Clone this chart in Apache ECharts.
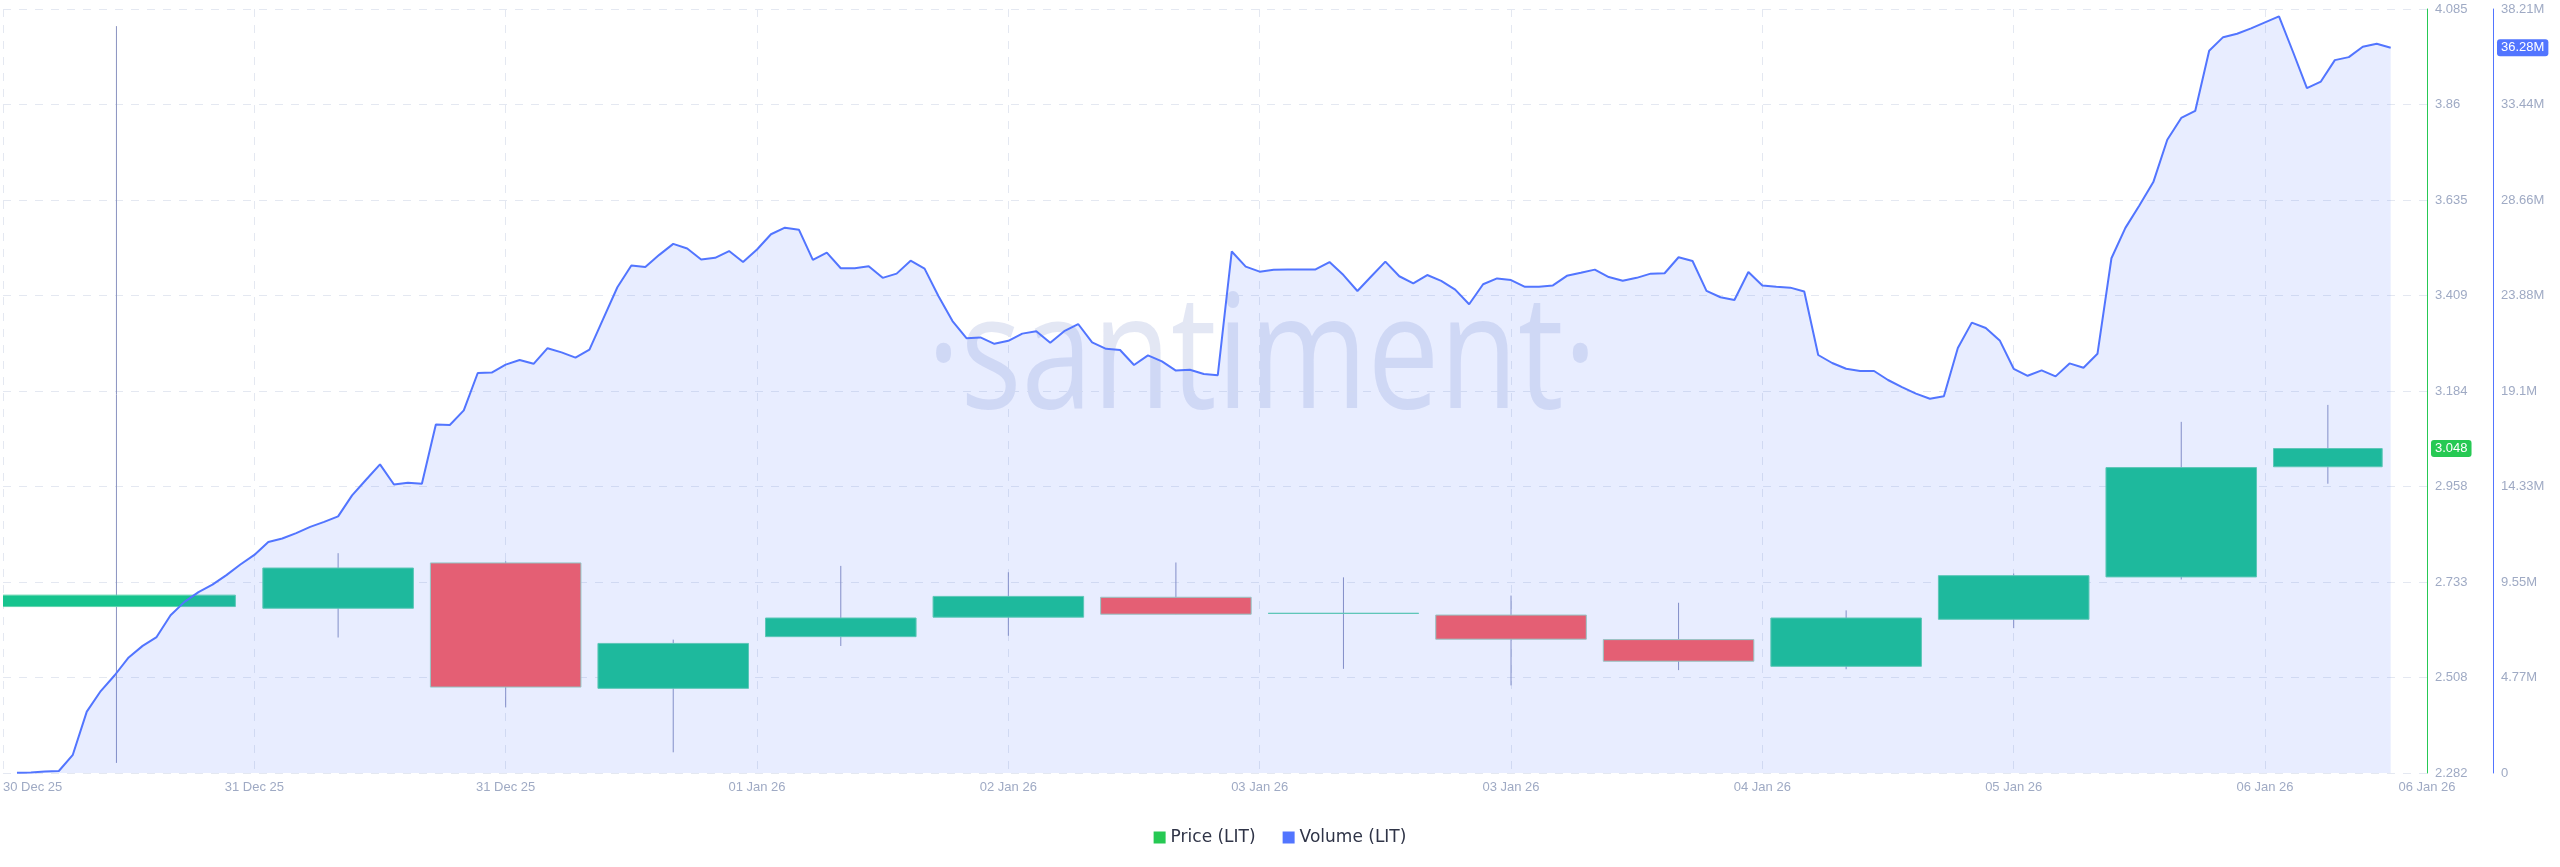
<!DOCTYPE html>
<html>
<head>
<meta charset="utf-8">
<script src="https://cdn.jsdelivr.net/npm/echarts@6.0.0/dist/echarts.min.js"></script>
<style>
html,body{margin:0;padding:0;background:#ffffff;}
#chart{width:2560px;height:867px;}
</style>
</head>
<body>
<div id="chart"></div>
<script>
// ---------------- DATA ----------------
// x axis: hours since 30 Dec 25 06:00, one tick label every 18 h
const xLabels = ['30 Dec 25', '31 Dec 25', '31 Dec 25', '01 Jan 26', '02 Jan 26', '03 Jan 26',
                 '03 Jan 26', '04 Jan 26', '05 Jan 26', '06 Jan 26', '06 Jan 26'];
const xLabelStepHours = 18;
const xAxisEndHour = 173.6;

// price candles (LIT): period start / end (hours) and OHLC
const candleStart = [-1.0, 18, 30, 42, 54, 66, 78, 90, 102, 114, 126, 138, 150, 162];
const candleEnd   = [17.25, 30, 42, 54, 66, 78, 90, 102, 114, 126, 138, 150, 162, 171];
const candleOpen  = [2.675, 2.671, 2.778, 2.482, 2.604, 2.650, 2.697, 2.659, 2.655, 2.597, 2.534, 2.645, 2.745, 3.005];
const candleClose = [2.702, 2.766, 2.485, 2.588, 2.648, 2.699, 2.657, 2.659, 2.598, 2.546, 2.648, 2.748, 3.003, 3.048];
const candleLow   = [2.306, 2.602, 2.437, 2.331, 2.582, 2.606, 2.657, 2.528, 2.489, 2.525, 2.527, 2.624, 2.739, 2.965];
const candleHigh  = [4.045, 2.801, 2.782, 2.597, 2.771, 2.756, 2.779, 2.744, 2.701, 2.684, 2.666, 2.753, 3.111, 3.151];

// hourly volume (millions), first point at hour 1
const volumeStartHour = 1;
const volume = [
  0.01, 0.02, 0.07, 0.10, 0.91, 3.07, 4.10, 4.89, 5.78, 6.36,
  6.80, 7.89, 8.56, 9.05, 9.42, 9.90, 10.43, 10.91, 11.56, 11.73,
  12.00, 12.31, 12.56, 12.84, 13.89, 14.67, 15.44, 14.43, 14.52, 14.47,
  17.43, 17.41, 18.14, 20.01, 20.03, 20.43, 20.66, 20.47, 21.25, 21.04,
  20.78, 21.18, 22.74, 24.30, 25.39, 25.31, 25.92, 26.47, 26.24, 25.69,
  25.77, 26.11, 25.56, 26.19, 26.95, 27.28, 27.18, 25.67, 26.03, 25.25,
  25.25, 25.35, 24.77, 24.98, 25.63, 25.23, 23.85, 22.61, 21.75, 21.79,
  21.47, 21.62, 21.98, 22.10, 21.52, 22.10, 22.46, 21.54, 21.22, 21.16,
  20.41, 20.89, 20.59, 20.13, 20.17, 19.96, 19.90, 26.09, 25.33, 25.08,
  25.18, 25.19, 25.19, 25.19, 25.56, 24.91, 24.11, 24.85, 25.58, 24.85,
  24.49, 24.91, 24.62, 24.18, 23.45, 24.45, 24.74, 24.66, 24.32, 24.33,
  24.39, 24.87, 25.02, 25.18, 24.81, 24.62, 24.77, 24.98, 25.00, 25.80,
  25.61, 24.12, 23.80, 23.66, 25.06, 24.39, 24.32, 24.28, 24.09, 20.91,
  20.51, 20.22, 20.11, 20.11, 19.66, 19.30, 18.98, 18.72, 18.85, 21.26,
  22.53, 22.26, 21.64, 20.22, 19.87, 20.14, 19.84, 20.49, 20.27, 20.97,
  25.75, 27.27, 28.39, 29.56, 31.68, 32.77, 33.12, 36.13, 36.81, 36.98,
  37.25, 37.55, 37.85, 36.08, 34.26, 34.59, 35.66, 35.81, 36.33, 36.48,
  36.28
];

// axis ranges
const priceMin = 2.2822, priceInterval = 0.2254, priceMax = 4.0854;
const volMin = 0, volInterval = 4.7773, volMax = 38.2184;

// ---------------- STYLE ----------------
const FONT = "'Liberation Sans', Arial, sans-serif";
const LABEL_COLOR = '#9faac4';
const GRID_COLOR = '#e4e8f1';
const PRICE_COLOR = '#26c953';
const VOLUME_COLOR = '#5275ff';
const UP = '#16c48e', DOWN = '#fb5c5f';
const UP_BORDER = '#5fd3ad', DOWN_BORDER = '#9fd3bd';
const WICK = '#8a92c0';
const CANDLE_GAP = 17;

const candleData = candleStart.map((s, i) => [s, candleEnd[i], candleOpen[i], candleClose[i], candleLow[i], candleHigh[i]]);
const volumeData = volume.map((v, i) => [volumeStartHour + i, v]);

const chart = echarts.init(document.getElementById('chart'), null, { renderer: 'canvas' });

const option = {
  animation: false,
  backgroundColor: '#ffffff',
  graphic: [{
    type: 'text',
    x: 1262, y: 362,
    scaleX: 0.8,
    z: -10,
    silent: true,
    style: {
      text: '·santiment·',
      font: "160px 'Open Sans', 'Noto Sans', sans-serif",
      fill: 'rgba(140,155,210,0.24)',
      textAlign: 'center',
      textVerticalAlign: 'middle'
    }
  }],
  legend: {
    top: 824,
    left: 'center',
    itemWidth: 12,
    itemHeight: 12,
    itemGap: 27,
    textStyle: { fontSize: 17, fontFamily: "'DejaVu Sans', sans-serif", color: '#2f3447' },
    data: [
      { name: 'Price (LIT)', icon: 'rect', itemStyle: { color: PRICE_COLOR, borderWidth: 0 } },
      { name: 'Volume (LIT)', icon: 'rect', itemStyle: { color: VOLUME_COLOR, borderWidth: 0 } }
    ]
  },
  grid: { left: 0, right: 133, top: 9, bottom: 94, containLabel: false },
  xAxis: {
    type: 'value',
    min: 0,
    max: xAxisEndHour,
    interval: xLabelStepHours,
    axisLine: { show: false, onZero: false },
    axisTick: { show: false },
    splitLine: { show: true, lineStyle: { color: GRID_COLOR, type: [8, 8], width: 1 } },
    axisLabel: {
      color: LABEL_COLOR, fontSize: 13, fontFamily: FONT, margin: 8,
      alignMinLabel: 'left',
      showMinLabel: true, showMaxLabel: true,
      formatter: v => xLabels[Math.round(v / xLabelStepHours)]
    }
  },
  yAxis: [{
    type: 'value',
    position: 'right',
    min: priceMin, max: priceMax, interval: priceInterval,
    axisLine: { show: true, onZero: false, lineStyle: { color: PRICE_COLOR, width: 1 } },
    axisTick: { show: false },
    splitLine: { show: true, lineStyle: { color: GRID_COLOR, type: [8, 8], width: 1 } },
    axisLabel: { color: LABEL_COLOR, fontSize: 13, fontFamily: FONT, margin: 8,
      formatter: v => String(parseFloat(v.toFixed(3))) },
    axisPointer: {
      show: true, type: 'line', status: 'show', snap: false,
      value: candleClose[candleClose.length - 1],
      triggerTooltip: false, triggerEmphasis: false,
      lineStyle: { opacity: 0 },
      label: { show: true, margin: 4, padding: [2, 4, 2, 4], backgroundColor: PRICE_COLOR,
        color: '#ffffff', fontSize: 13, fontFamily: FONT,
        formatter: p => Number(p.value).toFixed(3) }
    }
  }, {
    type: 'value',
    position: 'right',
    offset: 66,
    min: volMin, max: volMax, interval: volInterval,
    axisLine: { show: true, onZero: false, lineStyle: { color: VOLUME_COLOR, width: 1 } },
    axisTick: { show: false },
    splitLine: { show: false },
    axisLabel: { color: LABEL_COLOR, fontSize: 13, fontFamily: FONT, margin: 8,
      formatter: v => v === 0 ? '0' : (Math.floor(v * 100 + 1e-6) / 100) + 'M' },
    axisPointer: {
      show: true, type: 'line', status: 'show', snap: false,
      value: volume[volume.length - 1],
      triggerTooltip: false, triggerEmphasis: false,
      lineStyle: { opacity: 0 },
      label: { show: true, margin: 4, padding: [2, 4, 2, 4], backgroundColor: VOLUME_COLOR,
        color: '#ffffff', fontSize: 13, fontFamily: FONT,
        formatter: p => Number(p.value).toFixed(2) + 'M' }
    }
  }],
  series: [{
    name: 'Price (LIT)',
    type: 'custom',
    xAxisIndex: 0,
    yAxisIndex: 0,
    z: 2,
    clip: true,
    silent: true,
    itemStyle: { color: PRICE_COLOR },
    encode: { x: [0, 1], y: [2, 3, 4, 5] },
    data: candleData,
    renderItem: function (params, api) {
      const s = api.value(0), e = api.value(1), o = api.value(2), c = api.value(3);
      const lo = api.value(4), hi = api.value(5);
      const mid = (s + e) / 2;
      const pS = api.coord([s, o]);
      const pE = api.coord([e, c]);
      const pH = api.coord([mid, hi]);
      const pL = api.coord([mid, lo]);
      const x0 = pS[0] + CANDLE_GAP / 2, x1 = pE[0] - CANDLE_GAP / 2;
      const top = Math.min(pS[1], pE[1]);
      const h = Math.abs(pS[1] - pE[1]);
      const up = c >= o;
      return {
        type: 'group',
        children: [
          { type: 'line', shape: { x1: pH[0], y1: pH[1], x2: pL[0], y2: pL[1] },
            style: { stroke: WICK, lineWidth: 1 } },
          { type: 'rect', shape: { x: x0, y: top, width: x1 - x0, height: h },
            style: { fill: up ? UP : DOWN, stroke: up ? UP_BORDER : DOWN_BORDER, lineWidth: 1 } }
        ]
      };
    }
  }, {
    name: 'Volume (LIT)',
    type: 'line',
    xAxisIndex: 0,
    yAxisIndex: 1,
    z: 3,
    silent: true,
    symbol: 'none',
    showSymbol: false,
    itemStyle: { color: VOLUME_COLOR },
    lineStyle: { color: VOLUME_COLOR, width: 2 },
    areaStyle: { color: 'rgba(82,117,255,0.19)' },
    data: volumeData
  }]
};

chart.setOption(option);
</script>
</body>
</html>
